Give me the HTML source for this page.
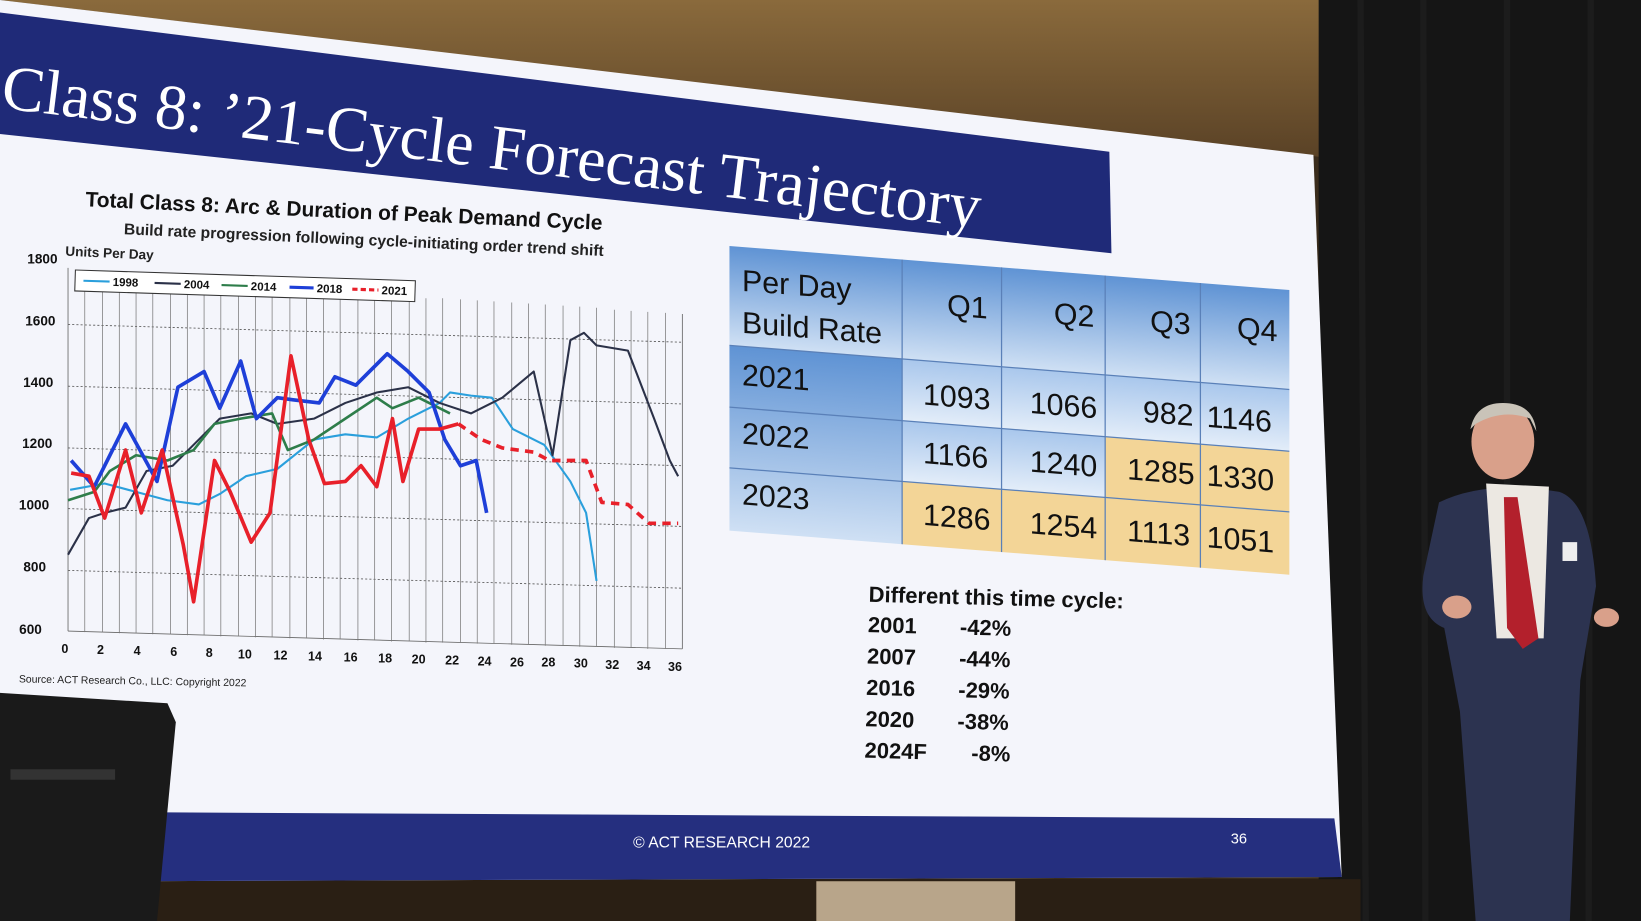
<!DOCTYPE html>
<html><head><meta charset="utf-8"><style>
html,body{margin:0;padding:0;width:1641px;height:921px;overflow:hidden;background:#2a2118}
svg{display:block}
text{font-family:"Liberation Sans",sans-serif}
</style></head><body>
<svg width="1641" height="921" viewBox="0 0 1568 880" preserveAspectRatio="none" xmlns="http://www.w3.org/2000/svg">
<defs>
<linearGradient id="wood" x1="0" y1="0" x2="0" y2="1"><stop offset="0" stop-color="#8a6a3c"/><stop offset="1" stop-color="#5a4226"/></linearGradient>
<linearGradient id="blu" x1="0" y1="0" x2="0" y2="1"><stop offset="0" stop-color="#5f93d4"/><stop offset="1" stop-color="#cfe0f4"/></linearGradient>
<linearGradient id="cell" x1="0" y1="0" x2="0" y2="1"><stop offset="0" stop-color="#a9c7ec"/><stop offset="1" stop-color="#e3edf9"/></linearGradient>
</defs>
<rect x="0" y="0" width="1568" height="880" fill="#3a2c1c"/>
<polygon points="0,0 1262,0 1262,150 0,0" fill="url(#wood)"/>
<rect x="1260" y="0" width="308" height="880" fill="#151515"/>
<g stroke="#222" stroke-width="6" opacity="0.6"><line x1="1300" y1="0" x2="1305" y2="880"/><line x1="1360" y1="0" x2="1362" y2="880"/><line x1="1440" y1="0" x2="1440" y2="880"/><line x1="1520" y1="0" x2="1518" y2="880"/></g>
<rect x="0" y="840" width="1300" height="40" fill="#2a1f14"/>
<rect x="780" y="842" width="190" height="38" fill="#b8a58a"/>
<polygon points="0,0 1255,148 1282,838 120,842 0,842" fill="#f4f5fb"/>
<polygon points="0,12 1060,145 1062,242 0,128" fill="#1f2a78"/>
<text transform="translate(0,103) rotate(7)" style="font-family:'Liberation Serif',serif" font-size="61" fill="#fff">Class 8: ’21-Cycle Forecast Trajectory</text>
<polygon points="120,776 1275,782 1282,838 120,842" fill="#252f7f"/>
<text x="605" y="810" font-size="15" fill="#fff">© ACT RESEARCH 2022</text>
<text x="1176" y="806" font-size="14" fill="#fff">36</text>
<polygon points="0,662 160,672 168,690 150,880 0,880" fill="#1a1a1a"/>
<rect x="10" y="735" width="100" height="10" fill="#333"/>
<g transform="rotate(2.6 80 185)">
<text x="82" y="197" font-size="20" font-weight="bold" fill="#111">Total Class 8: Arc &amp; Duration of Peak Demand Cycle</text>
<text x="120" y="222" font-size="15" font-weight="bold" fill="#222">Build rate progression following cycle-initiating order trend shift</text>
<text x="65" y="245" font-size="13" font-weight="bold" fill="#222">Units Per Day</text>
</g>
<g font-size="13" font-weight="bold" fill="#111" text-anchor="end">
<text x="55" y="252">1800</text><text x="53" y="311">1600</text><text x="51" y="370">1400</text><text x="50" y="428">1200</text><text x="47" y="487">1000</text><text x="44" y="546">800</text><text x="40" y="606">600</text>
</g>
<g stroke="#555" stroke-width="0.8" stroke-dasharray="2,2" fill="none">
<line x1="65" y1="310" x2="652" y2="327"/><line x1="65" y1="369" x2="652" y2="386"/><line x1="65" y1="428" x2="652" y2="445"/><line x1="65" y1="486" x2="652" y2="503"/><line x1="65" y1="545" x2="652" y2="562"/>
</g>
<g stroke="#666" stroke-width="0.8">
<line x1="65" y1="256" x2="65" y2="603"/><line x1="652" y1="300" x2="652" y2="620"/>
<line x1="65" y1="603" x2="652" y2="620"/>
</g>
<g stroke="#777" stroke-width="0.7">
<line x1="81" y1="272" x2="81" y2="604"/><line x1="98" y1="272" x2="98" y2="604"/><line x1="114" y1="272" x2="114" y2="605"/><line x1="130" y1="272" x2="130" y2="605"/><line x1="146" y1="272" x2="146" y2="606"/><line x1="163" y1="272" x2="163" y2="606"/><line x1="179" y1="272" x2="179" y2="607"/><line x1="195" y1="272" x2="195" y2="607"/><line x1="211" y1="272" x2="211" y2="608"/><line x1="228" y1="272" x2="228" y2="608"/><line x1="244" y1="272" x2="244" y2="609"/><line x1="260" y1="272" x2="260" y2="609"/><line x1="277" y1="272" x2="277" y2="610"/><line x1="293" y1="272" x2="293" y2="610"/><line x1="309" y1="272" x2="309" y2="611"/><line x1="325" y1="272" x2="325" y2="611"/><line x1="342" y1="272" x2="342" y2="612"/><line x1="358" y1="272" x2="358" y2="612"/><line x1="374" y1="272" x2="374" y2="613"/><line x1="391" y1="272" x2="391" y2="613"/><line x1="407" y1="285" x2="407" y2="614"/><line x1="423" y1="285" x2="423" y2="614"/><line x1="440" y1="286" x2="440" y2="614"/><line x1="456" y1="287" x2="456" y2="615"/><line x1="472" y1="288" x2="472" y2="615"/><line x1="489" y1="289" x2="489" y2="616"/><line x1="505" y1="290" x2="505" y2="616"/><line x1="521" y1="291" x2="521" y2="617"/><line x1="538" y1="292" x2="538" y2="617"/><line x1="554" y1="293" x2="554" y2="618"/><line x1="570" y1="294" x2="570" y2="618"/><line x1="587" y1="296" x2="587" y2="619"/><line x1="603" y1="297" x2="603" y2="619"/><line x1="619" y1="298" x2="619" y2="620"/><line x1="636" y1="299" x2="636" y2="620"/>
</g>
<g font-size="12" font-weight="bold" fill="#111" text-anchor="middle">
<text x="62" y="624">0</text><text x="96" y="625">2</text><text x="131" y="626">4</text><text x="166" y="627">6</text><text x="200" y="628">8</text><text x="234" y="629">10</text><text x="268" y="630">12</text><text x="301" y="631">14</text><text x="335" y="632">16</text><text x="368" y="633">18</text><text x="400" y="634">20</text><text x="432" y="635">22</text><text x="463" y="636">24</text><text x="494" y="637">26</text><text x="524" y="637">28</text><text x="555" y="638">30</text><text x="585" y="639">32</text><text x="615" y="640">34</text><text x="645" y="641">36</text>
</g>
<text x="18" y="652" font-size="10" fill="#222" transform="rotate(1 18 652)">Source: ACT Research Co., LLC: Copyright 2022</text>
<g fill="none" stroke-linejoin="round">
<polyline stroke="#2a9fdc" stroke-width="2" points="67,468 100,462 130,470 160,478 190,482 210,472 235,455 265,448 300,420 330,415 360,418 390,400 420,385 430,375 450,378 470,380 490,410 520,425 545,460 560,490 570,555"/>
<polyline stroke="#2b3148" stroke-width="2" points="65,530 85,495 100,490 120,485 140,450 165,445 190,420 210,400 240,395 265,405 300,400 330,385 360,375 390,370 420,385 450,395 480,380 510,355 528,435 545,325 558,318 570,330 600,335 625,400 640,440 648,455"/>
<polyline stroke="#2e7d4a" stroke-width="2.5" points="65,478 90,470 105,450 130,435 160,440 185,430 205,405 230,400 260,395 275,430 300,420 330,400 360,380 375,390 400,380 430,395"/>
<polyline stroke="#1e3fd8" stroke-width="3.5" points="68,440 90,465 120,405 150,460 170,370 195,355 210,390 230,345 245,400 265,380 280,382 305,385 320,360 340,368 370,338 390,355 410,375 425,420 440,445 455,440 465,490"/>
<polyline stroke="#e8202a" stroke-width="3.5" points="68,452 85,455 100,495 120,430 135,490 155,430 175,520 185,575 205,440 220,470 240,518 258,490 278,340 295,420 310,462 330,460 345,445 360,465 375,400 385,460 400,410 420,410 438,405"/>
<polyline stroke="#e8202a" stroke-width="3.5" stroke-dasharray="8,6" points="438,405 460,420 480,428 510,432 525,440 560,440 575,480 600,482 620,500 648,500"/>
</g>
<g transform="rotate(1.8 72 260)">
<rect x="72" y="258" width="325" height="20" fill="#fff" stroke="#333"/>
<g font-size="11" font-weight="bold" fill="#111">
<line x1="80" y1="268" x2="105" y2="268" stroke="#2a9fdc" stroke-width="2"/><text x="108" y="272">1998</text>
<line x1="148" y1="268" x2="173" y2="268" stroke="#2b3148" stroke-width="2"/><text x="176" y="272">2004</text>
<line x1="212" y1="268" x2="237" y2="268" stroke="#2e7d4a" stroke-width="2"/><text x="240" y="272">2014</text>
<line x1="277" y1="268" x2="300" y2="268" stroke="#1e3fd8" stroke-width="3"/><text x="303" y="272">2018</text>
<line x1="337" y1="268" x2="362" y2="268" stroke="#e8202a" stroke-width="3" stroke-dasharray="5,3"/><text x="365" y="272">2021</text>
</g></g>
<g transform="translate(697,235) skewY(4.5)">
<rect x="0" y="0" width="535" height="95" fill="url(#blu)"/>
<rect x="0" y="95" width="165" height="177" fill="url(#blu)"/>
<rect x="165" y="95" width="370" height="59" fill="url(#cell)"/>
<rect x="165" y="154" width="194" height="58" fill="url(#cell)"/>
<rect x="359" y="154" width="176" height="58" fill="#f3d597"/>
<rect x="165" y="212" width="370" height="60" fill="#f3d597"/>
<g stroke="#5a80b8" stroke-width="1.2">
<line x1="165" y1="0" x2="165" y2="272"/><line x1="260" y1="0" x2="260" y2="272"/><line x1="359" y1="0" x2="359" y2="272"/><line x1="450" y1="0" x2="450" y2="272"/>
<line x1="0" y1="95" x2="535" y2="95"/><line x1="0" y1="154" x2="535" y2="154"/><line x1="0" y1="212" x2="535" y2="212"/>
</g>
<g font-size="29" fill="#111">
<text x="12" y="42">Per Day</text><text x="12" y="82">Build Rate</text>
<text x="208" y="50">Q1</text><text x="310" y="50">Q2</text><text x="402" y="50">Q3</text><text x="485" y="50">Q4</text>
<text x="12" y="132">2021</text><text x="12" y="188">2022</text><text x="12" y="246">2023</text>
<text x="185" y="137">1093</text><text x="287" y="137">1066</text><text x="395" y="137">982</text><text x="456" y="137">1146</text>
<text x="185" y="193">1166</text><text x="287" y="193">1240</text><text x="380" y="193">1285</text><text x="456" y="193">1330</text>
<text x="185" y="252">1286</text><text x="287" y="252">1254</text><text x="380" y="252">1113</text><text x="456" y="252">1051</text>
</g></g>
<g font-size="21" font-weight="bold" fill="#111" transform="rotate(1.5 830 570)">
<text x="830" y="575">Different this time cycle:</text>
<text x="830" y="604">2001</text><text x="918" y="604">-42%</text>
<text x="830" y="634">2007</text><text x="918" y="634">-44%</text>
<text x="830" y="664">2016</text><text x="918" y="664">-29%</text>
<text x="830" y="694">2020</text><text x="918" y="694">-38%</text>
<text x="830" y="724">2024F</text><text x="932" y="724">-8%</text>
</g>
<ellipse cx="1436" cy="422" rx="30" ry="36" fill="#d9a08a"/>
<path d="M1405,410 Q1410,385 1436,385 Q1465,385 1468,412 L1462,400 Q1436,390 1410,405Z" fill="#c9c3b8"/>
<path d="M1375,480 Q1420,458 1490,470 Q1520,480 1525,560 L1510,650 L1500,880 L1410,880 L1395,680 L1380,600 Q1355,590 1360,550 Z" fill="#2c3350"/>
<polygon points="1420,462 1480,465 1475,610 1430,610" fill="#ece8e2"/>
<polygon points="1437,475 1450,475 1470,610 1455,620 1440,600" fill="#b3202c"/>
<rect x="1493" y="518" width="14" height="18" fill="#eee"/>
<ellipse cx="1392" cy="580" rx="14" ry="11" fill="#d9a08a"/>
<ellipse cx="1535" cy="590" rx="12" ry="9" fill="#d9a08a"/>
</svg>
</body></html>
